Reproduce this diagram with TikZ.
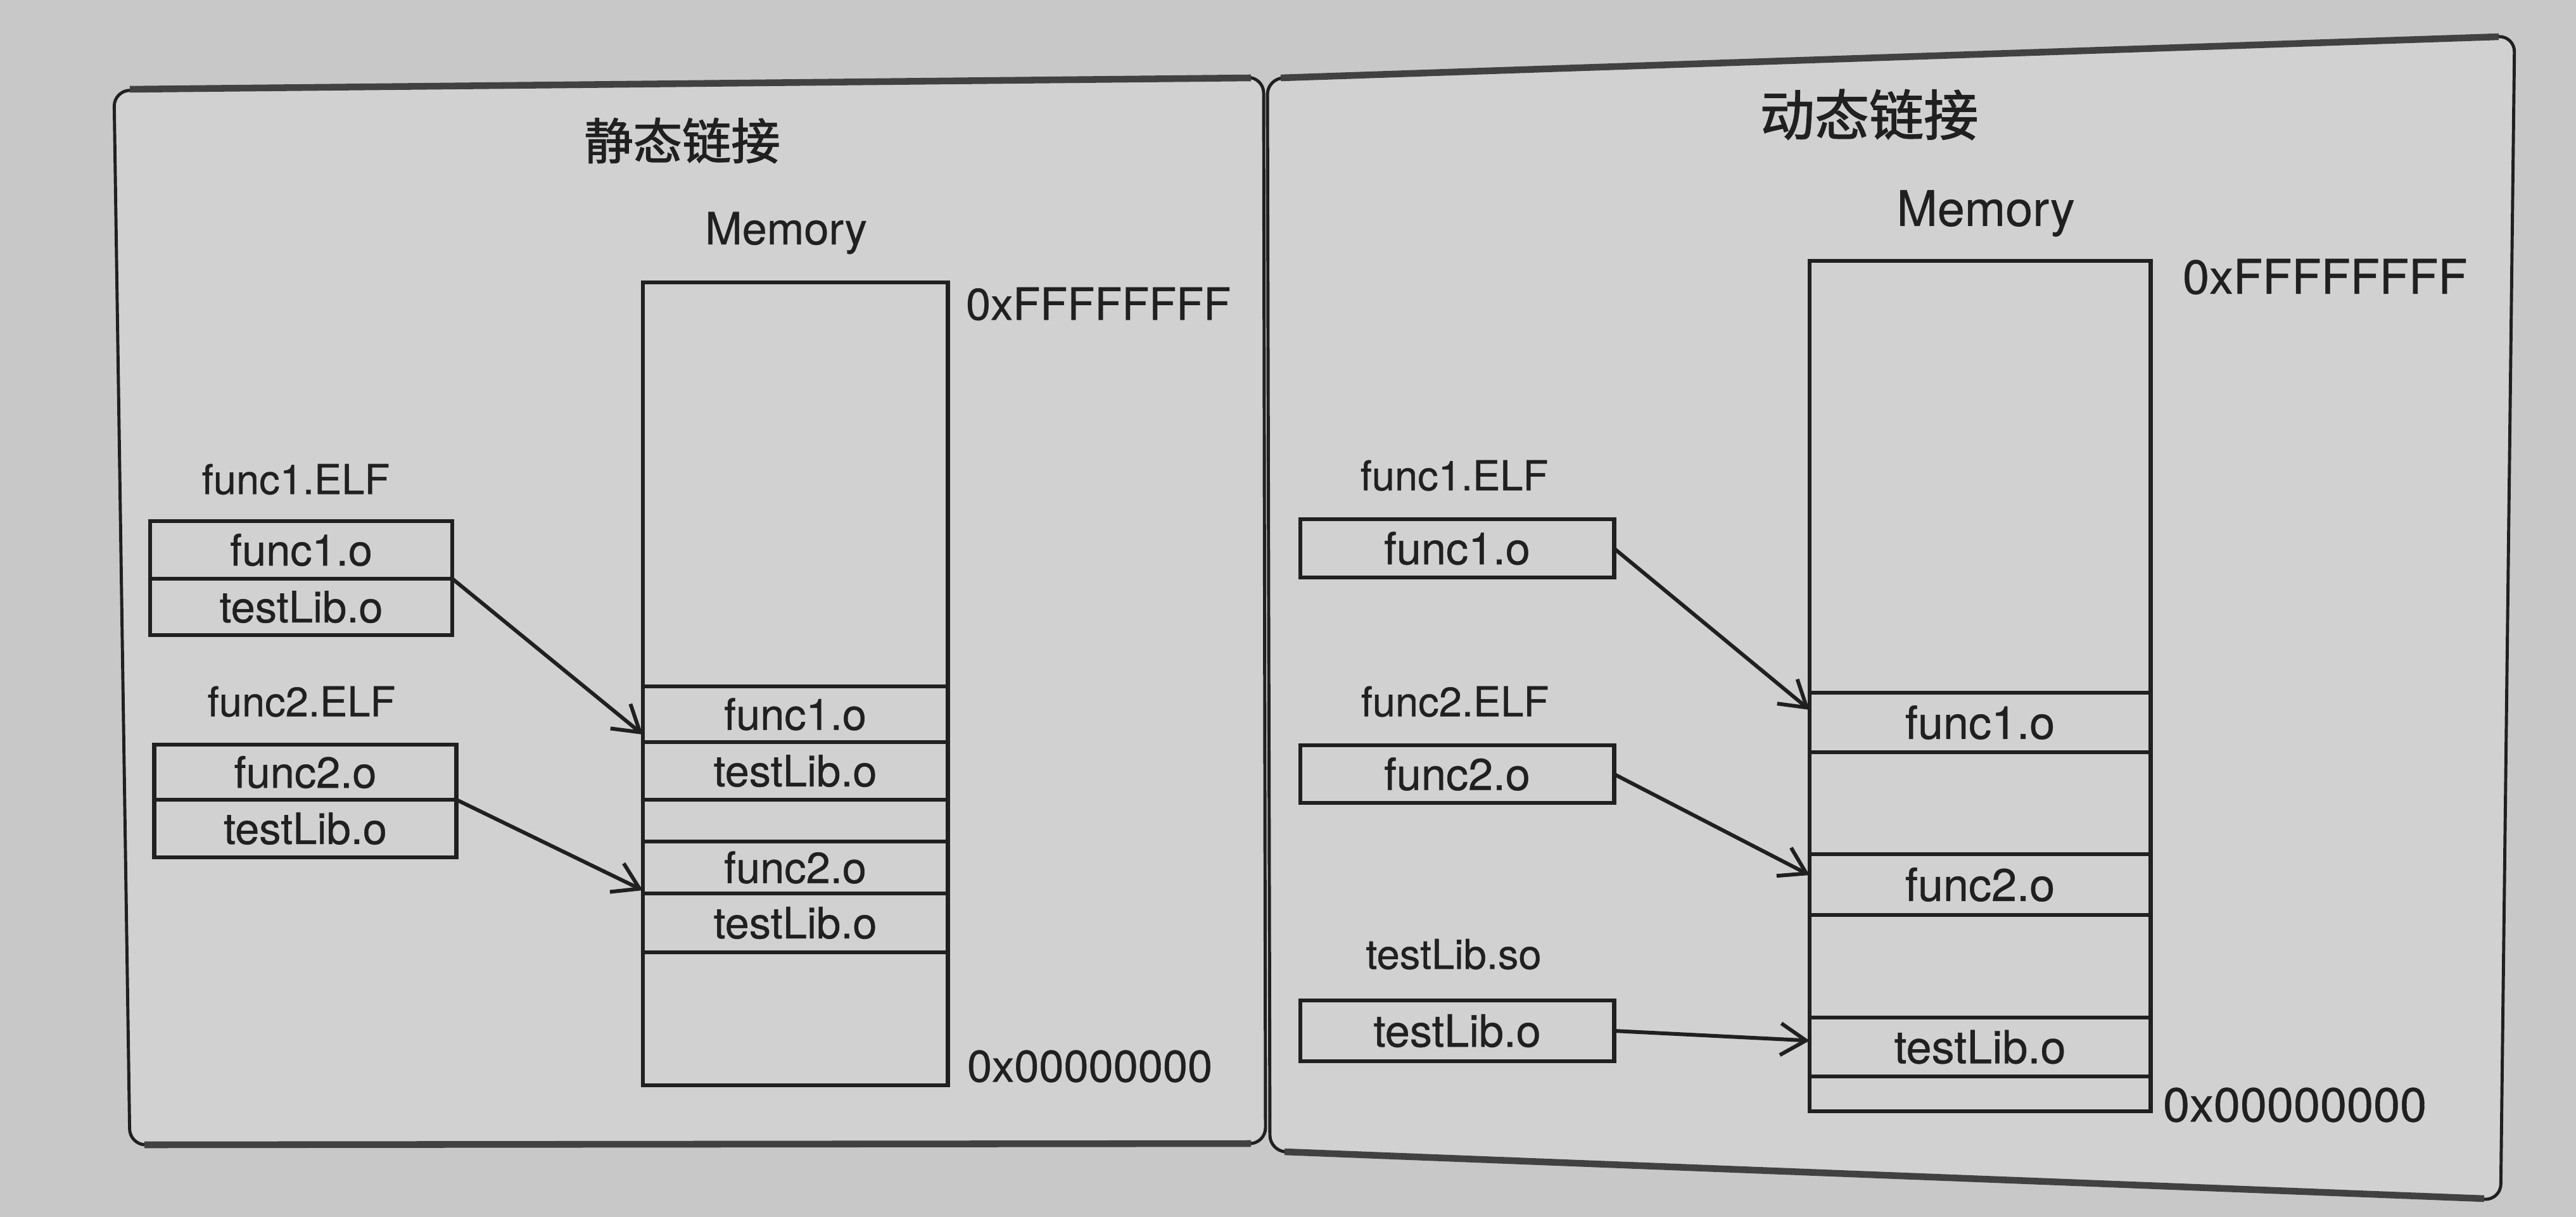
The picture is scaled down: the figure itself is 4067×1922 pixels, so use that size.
\documentclass[tikz,border=0pt]{standalone}
\usepackage{fontspec}
\setmainfont{TeX Gyre Heros}[UprightFeatures={FakeBold=0.5}]
\newfontfamily\cjkfont{Noto Sans CJK SC}[UprightFeatures={FakeBold=1.6}]
\usetikzlibrary{arrows.meta}
\definecolor{paper}{HTML}{C8C8C8}
\definecolor{panelfill}{HTML}{D1D1D1}
\definecolor{ink}{HTML}{202020}
\tikzset{
  every node/.style={text=ink, inner sep=0pt, outer sep=0pt},
  cell/.style={draw=ink, line width=1.9pt, minimum height={#1*0.01cm}, font=\fontsize{19.5}{22}\selectfont},
  lmem/.style={cell=#1, minimum width=4.81cm},
  rmem/.style={cell=#1, minimum width=5.38cm, font=\fontsize{20.5}{23}\selectfont},
  lobj/.style={cell=#1, minimum width=4.77cm},
  robj/.style={cell=#1, minimum width=4.95cm, font=\fontsize{20}{23}\selectfont},
  elflabel/.style={font=\fontsize{18.5}{21}\selectfont},
  memlabel/.style={font=\fontsize{#1}{#1}\selectfont},
  hexlabel/.style={anchor=west, font=\fontsize{#1}{#1}\selectfont},
  titlelabel/.style={font=\cjkfont\fontsize{#1}{#1}\selectfont},
  panel/.style={draw=ink, line width=1.4pt, fill=panelfill, rounded corners=0.25cm},
  panelshade/.style={draw=ink!85, line width=3pt},
  link/.style={draw=ink, line width=1.7pt, -{Straight Barb[length=0.4cm,width=0.5cm,line width=1.7pt]}}
}
\begin{document}
\begin{tikzpicture}[x=0.01cm,y=-0.01cm]
\fill[paper] (0,0) rectangle (4067,1922);
\useasboundingbox (0,0) rectangle (4067,1922);

% panels
\draw[panel] (180,143) -- (1995,122) -- (1998,1806) -- (205,1808) -- cycle;
\draw[panel] (2001,124) -- (3970,57) -- (3948,1895) -- (2005,1818) -- cycle;
\draw[panelshade] (205,141) -- (1975,123);
\draw[panelshade] (2022,123) -- (3945,58);
\draw[panelshade] (228,1808) -- (1975,1806);
\draw[panelshade] (2028,1819) -- (3922,1893);

% ---------- left: static linking ----------
\node[titlelabel=22] (ltitle) at (1077,222) {静态链接};
\node[memlabel=20] (lmemlbl) at (1241,368) {Memory};

\node[lmem=638] (lm0) at (1255.5,765) {};
\node[lmem=88]  (lm1) at (1255.5,1128) {func1.o};
\node[lmem=91]  (lm2) at (1255.5,1217.5) {testLib.o};
\node[lmem=66]  (lm3) at (1255.5,1296) {};
\node[lmem=82]  (lm4) at (1255.5,1370) {func2.o};
\node[lmem=93]  (lm5) at (1255.5,1457.5) {testLib.o};
\node[lmem=210] (lm6) at (1255.5,1609) {};

\node[hexlabel=20] (lhigh) at (1525,480) {0xFFFFFFFF};
\node[hexlabel=20] (llow) at (1527,1684) {0x00000000};

\node[elflabel] (lelf1) at (467,757) {func1.ELF};
\node[lobj=91] (lf1) at (475.5,868.5) {func1.o};
\node[lobj=89] (lt1) at (475.5,958.5) {testLib.o};

\node[elflabel] (lelf2) at (476,1108) {func2.ELF};
\node[lobj=87] (lf2) at (482,1219.5) {func2.o};
\node[lobj=91] (lt2) at (482,1308.5) {testLib.o};

\draw[link] (lf1.south east) -- ([yshift=0.12cm]lm1.south west);
\draw[link] (lf2.south east) -- ([yshift=0.05cm]lm4.south west);

% ---------- right: dynamic linking ----------
\node[titlelabel=24.5] (rtitle) at (2951,181) {动态链接};
\node[memlabel=22] (rmemlbl) at (3135,337) {Memory};

\node[rmem=682] (rm0) at (3126,753) {};
\node[rmem=94]  (rm1) at (3126,1141) {func1.o};
\node[rmem=161] (rm2) at (3126,1268.5) {};
\node[rmem=96]  (rm3) at (3126,1397) {func2.o};
\node[rmem=162] (rm4) at (3126,1526) {};
\node[rmem=93]  (rm5) at (3126,1653.5) {testLib.o};
\node[rmem=55]  (rm6) at (3126,1727.5) {};

\node[hexlabel=21.5] (rhigh) at (3446,437) {0xFFFFFFFF};
\node[hexlabel=21.5] (rlow) at (3415,1745) {0x00000000};

\node[elflabel] (relf1) at (2296,751) {func1.ELF};
\node[robj=92] (rf1) at (2300.5,866) {func1.o};

\node[elflabel] (relf2) at (2297,1108) {func2.ELF};
\node[robj=91] (rf2) at (2300.5,1222.5) {func2.o};

\node[elflabel] (rso) at (2295,1507) {testLib.so};
\node[robj=96] (rt) at (2300.5,1628) {testLib.o};

\draw[link] (rf1.east) -- ([yshift=0.2cm]rm1.west);
\draw[link] (rf2.east) -- ([yshift=0.15cm]rm3.west);
\draw[link] (rt.east) -- ([yshift=0.1cm]rm5.west);
\end{tikzpicture}
\end{document}
